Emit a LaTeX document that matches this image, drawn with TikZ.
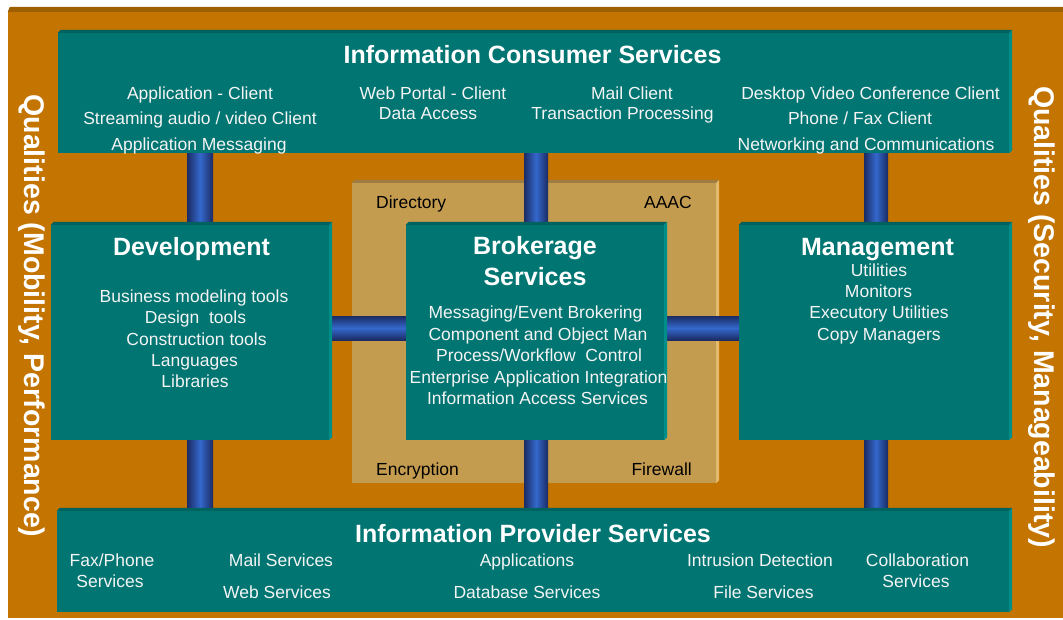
\documentclass[tikz,border=0pt]{standalone}
\usepackage{fontspec}
\setmainfont{Liberation Sans}
\usetikzlibrary{calc}
\definecolor{orangebg}{HTML}{C47400}
\definecolor{orangetop}{HTML}{9E5F00}
\definecolor{tealbody}{HTML}{007572}
\definecolor{tealtop}{HTML}{00625E}
\definecolor{tealside}{HTML}{008E8A}
\definecolor{tanbody}{HTML}{C49C50}
\definecolor{tantop}{HTML}{9F7D42}
\definecolor{tanside}{HTML}{E2BA6C}
\definecolor{pipedark}{HTML}{1B2B63}
\definecolor{pipelight}{HTML}{3468CC}
\definecolor{txtwhite}{HTML}{F4F4F4}
\newcommand\bevelfaces[3]{%
  \fill[#2] (#1.north west) -- ++(3,-3) -- ([shift={(3,-3)}]#1.north east) -- (#1.north east) -- cycle;
  \fill[#3] (#1.north east) -- ++(3,-3) -- ([shift={(3,-3)}]#1.south east) -- (#1.south east) -- cycle;}
\tikzset{
  boxbody/.style={fill=tealbody, draw=none, inner sep=0pt, anchor=center},
  tanbox/.style={fill=tanbody, draw=none, inner sep=0pt, anchor=center},
  vpipe/.style={left color=pipedark, right color=pipedark, middle color=pipelight},
  hpipe/.style={top color=pipedark, bottom color=pipedark, middle color=pipelight},
  body/.style={text=txtwhite, font=\fontsize{17.5}{21}\selectfont, inner sep=0pt, anchor=base},
  title/.style={text=white, font=\bfseries\fontsize{25}{30}\selectfont, inner sep=0pt, anchor=base},
  tanlabel/.style={text=black, font=\fontsize{17.5}{21}\selectfont, inner sep=0pt},
  side/.style={text=white, font=\bfseries\fontsize{28.5}{34}\selectfont, inner sep=0pt, rotate=-90, anchor=center}
}
\begin{document}
\begin{tikzpicture}[x=1pt,y=-1pt]
\useasboundingbox (0,0) rectangle (1063,619);
\fill[white] (0,0) rectangle (1063,619);
% outer frame
\node[fill=orangebg, inner sep=0pt, minimum width=1055pt, minimum height=606pt] (outer) at (535.5,315) {};
\fill[orangetop] (outer.north west) -- ++(2,-5) -- ([shift={(0,-5)}]outer.north east) -- (outer.north east) -- cycle;
% tan security frame
\node[tanbox, minimum width=364pt, minimum height=300pt] (tan) at (534,333) {};
\bevelfaces{tan}{tantop}{tanside}
% boxes
\node[boxbody, minimum width=951pt, minimum height=120pt] (ics) at (533.5,93) {};
\node[boxbody, minimum width=278pt, minimum height=215pt] (dev) at (190,332.5) {};
\node[boxbody, minimum width=258pt, minimum height=215pt] (brk) at (535,332.5) {};
\node[boxbody, minimum width=270pt, minimum height=215pt] (mgt) at (874,332.5) {};
\node[boxbody, minimum width=952pt, minimum height=101pt] (ips) at (533,561.5) {};
% pipe x positions
\coordinate (pl1) at (187,0); \coordinate (pl2) at (213,0);
\coordinate (pm1) at (524,0); \coordinate (pm2) at (548,0);
\coordinate (pr1) at (864,0); \coordinate (pr2) at (888,0);
\coordinate (ph1) at (0,316); \coordinate (ph2) at (0,340);
% pipes
\shade[vpipe] (ics.south -| pl1) rectangle (dev.north -| pl2);
\shade[vpipe] (ics.south -| pm1) rectangle (brk.north -| pm2);
\shade[vpipe] (ics.south -| pr1) rectangle (mgt.north -| pr2);
\shade[vpipe] (dev.south -| pl1) rectangle (ips.north -| pl2);
\shade[vpipe] (brk.south -| pm1) rectangle (ips.north -| pm2);
\shade[vpipe] (mgt.south -| pr1) rectangle (ips.north -| pr2);
\shade[hpipe] (dev.east |- ph1) rectangle (brk.west |- ph2);
\shade[hpipe] (brk.east |- ph1) rectangle (mgt.west |- ph2);
% bevels
\bevelfaces{ics}{tealtop}{tealside}
\bevelfaces{dev}{tealtop}{tealside}
\bevelfaces{brk}{tealtop}{tealside}
\bevelfaces{mgt}{tealtop}{tealside}
\bevelfaces{ips}{tealtop}{tealside}
% side labels
\node[side] (qleft) at (32,316) {Qualities (Mobility, Performance)};
\node[side] (qright) at (1042,317) {Qualities (Security, Manageability)};
% consumer services
\node[title] (icsT) at (532.5,63) {Information Consumer Services};
\node[body] (c1a) at (200,99) {Application - Client};
\node[body] (c1b) at (200,124) {Streaming audio / video Client};
\node[body] (c1c) at (199,150) {Application Messaging};
\node[body] (c2a) at (433,99) {Web Portal - Client};
\node[body] (c2b) at (428,119) {Data Access};
\node[body] (c3a) at (632,99) {Mail Client};
\node[body] (c3b) at (622.5,119) {Transaction Processing};
\node[body] (c4a) at (870.5,99) {Desktop Video Conference Client};
\node[body] (c4b) at (860,124) {Phone / Fax Client};
\node[body] (c4c) at (866,150) {Networking and Communications};
% tan labels
\node[tanlabel, anchor=base west] (dir) at (376,208) {Directory};
\node[tanlabel, anchor=base east] (aaac) at (692,208) {AAAC};
\node[tanlabel, anchor=base west] (enc) at (376,475) {Encryption};
\node[tanlabel, anchor=base east] (fw) at (692,475) {Firewall};
% development
\node[title] (devT) at (191.5,255) {Development};
\node[body] (d1) at (194,302) {Business modeling tools};
\node[body] (d2) at (195.5,323) {Design\ \ tools};
\node[body] (d3) at (196.5,345) {Construction tools};
\node[body] (d4) at (194.5,366) {Languages};
\node[body] (d5) at (195,387) {Libraries};
% brokerage
\node[title] (brkT1) at (535,254) {Brokerage};
\node[title] (brkT2) at (535,285) {Services};
\node[body] (b1) at (535.5,318) {Messaging/Event Brokering};
\node[body] (b2) at (538,340) {Component and Object Man};
\node[body] (b3) at (539,361) {Process/Workflow\ \ Control};
\node[body] (b4) at (538.5,383) {Enterprise Application Integration};
\node[body] (b5) at (537.5,404) {Information Access Services};
% management
\node[title] (mgtT) at (877.5,255) {Management};
\node[body] (m1) at (879,276) {Utilities};
\node[body] (m2) at (878.5,297) {Monitors};
\node[body] (m3) at (879,318) {Executory Utilities};
\node[body] (m4) at (879,340) {Copy Managers};
% provider services
\node[title] (ipsT) at (533,542) {Information Provider Services};
\node[body] (p1a) at (112,566) {Fax/Phone};
\node[body] (p1b) at (110,587) {Services};
\node[body] (p2a) at (281,566) {Mail Services};
\node[body] (p2b) at (277,598) {Web Services};
\node[body] (p3a) at (527,566) {Applications};
\node[body] (p3b) at (527,598) {Database Services};
\node[body] (p4a) at (760,566) {Intrusion Detection};
\node[body] (p4b) at (763.5,598) {File Services};
\node[body] (p5a) at (917.5,566) {Collaboration};
\node[body] (p5b) at (916,587) {Services};
\end{tikzpicture}
\end{document}
